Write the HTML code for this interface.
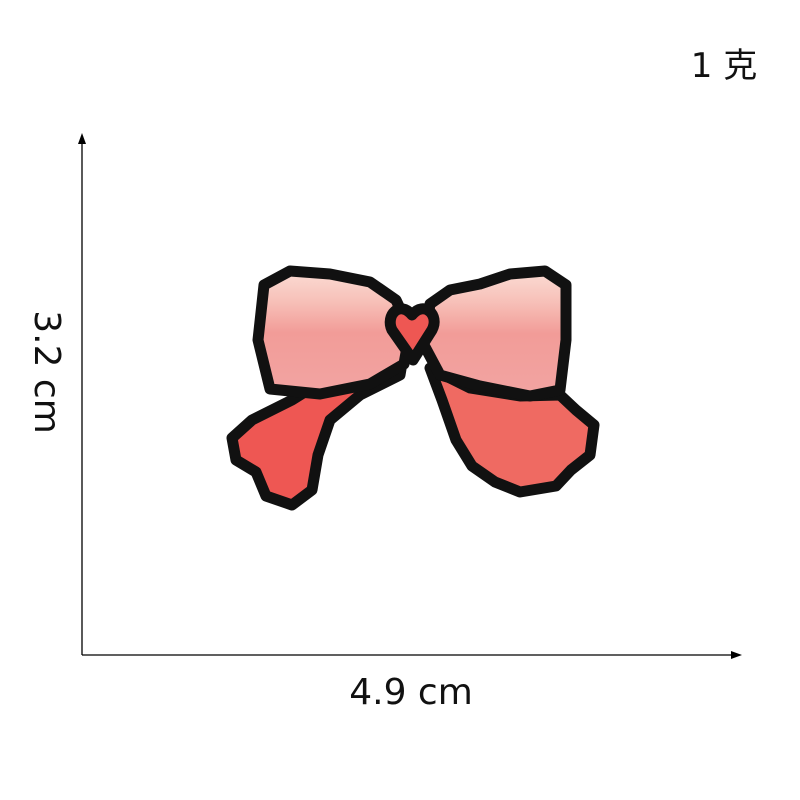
<!DOCTYPE html>
<html><head><meta charset="utf-8"><style>
html,body{margin:0;padding:0;background:#fff;}
svg{display:block;}
text{font-family:"DejaVu Sans","Noto Sans CJK SC",sans-serif;fill:#111;}
</style></head><body>
<svg width="800" height="800" viewBox="0 0 800 800">
<defs>
<linearGradient id="loopL" x1="0" y1="0" x2="0" y2="1"><stop offset="0" stop-color="#fbdcd4"/><stop offset="0.25" stop-color="#f7c0b8"/><stop offset="0.5" stop-color="#f29c98"/><stop offset="1" stop-color="#f2a4a2"/></linearGradient>
</defs>
<g stroke="#111" stroke-width="11" stroke-linejoin="round">
<path fill="#ee5753" d="M405,345 L400,375 L360,395 L330,420 L318,455 L312,490 L292,505 L266,496 L256,472 L236,460 L232,438 L252,420 L292,400 L340,370 L385,345 Z"/>
<path fill="#ef6a62" d="M430,368 L470,388 L520,396 L560,395 L576,410 L594,425 L590,455 L571,470 L556,486 L520,492 L495,482 L472,466 L456,440 L442,400 Z"/>
<path fill="url(#loopL)" d="M264,285 L290,271 L330,274 L370,282 L396,300 L410,330 L404,364 L370,384 L320,394 L270,389 L258,340 Z"/>
<path fill="url(#loopL)" d="M430,304 L450,290 L480,284 L510,274 L545,271 L566,285 L566,340 L560,390 L530,396 L480,386 L440,375 L424,345 Z"/>
<path fill="#ee5753" d="M413,360 L392,330 C385,315 400,300 412,315 C424,300 440,315 432,330 Z"/>
</g>
<g>
<line x1="82" y1="655" x2="82" y2="142" stroke="#000" stroke-width="1.3"/>
<polygon points="82,133 78,144 86,144" fill="#000"/>
</g>
<g>
<line x1="82" y1="655" x2="733" y2="655" stroke="#000" stroke-width="1.3"/>
<polygon points="742,655 731,651 731,659" fill="#000"/>
</g>
<text x="411" y="704" font-size="36" text-anchor="middle">4.9 cm</text>
<text transform="translate(35,372) rotate(90)" font-size="36" text-anchor="middle">3.2 cm</text>
<text x="724" y="77" font-size="34" text-anchor="middle">1 克</text>
</svg>
</body></html>
